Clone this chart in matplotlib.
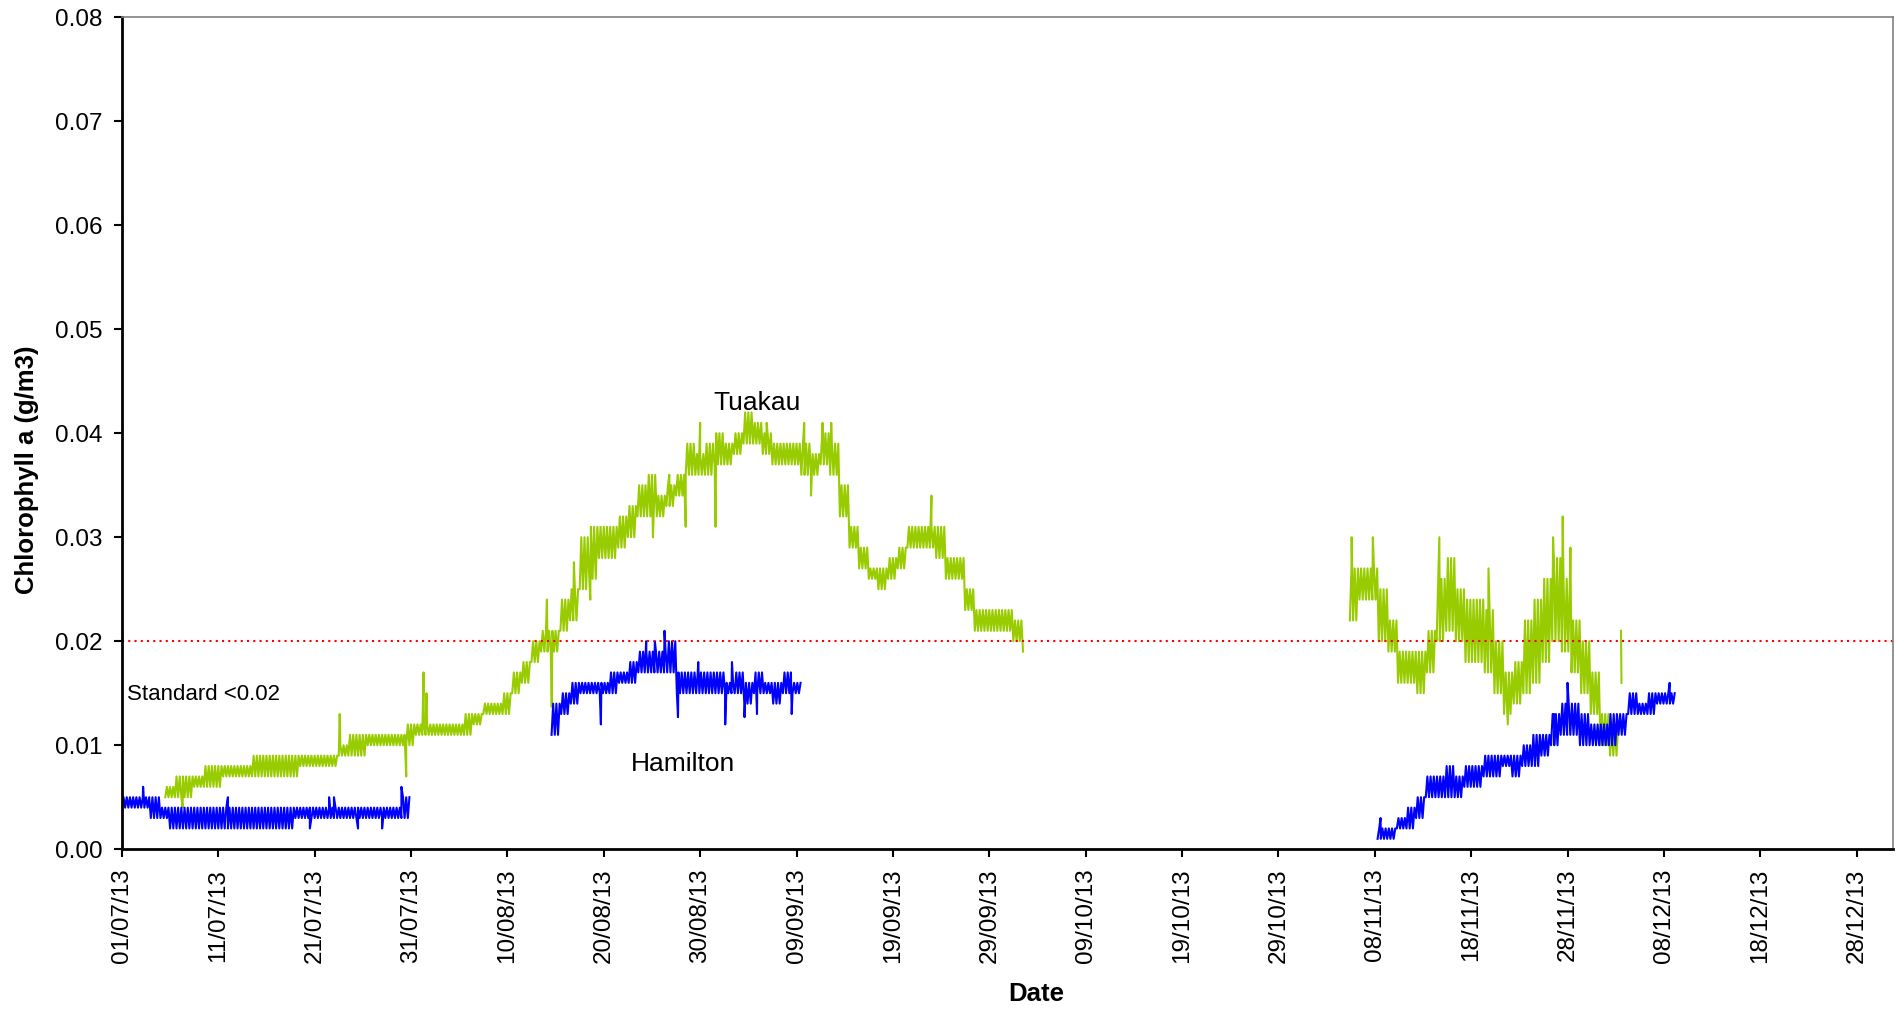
import numpy as np
import pandas as pd
import matplotlib
matplotlib.use("Agg")
import matplotlib.pyplot as plt
import matplotlib.dates as mdates
from matplotlib.ticker import FormatStrFormatter

plt.rcParams['font.family'] = ['Liberation Sans', 'DejaVu Sans']

BASE = pd.Timestamp('2013-07-01')

# daily low / high of the logger readings (g/m3)
# Tuakau, first run
tuakau1_start = '2013-07-05 12:00'
tuakau1_lo = [.005, .005, .005, .006, .006, .006, .007, .007, .007, .007,
              .007, .007, .007, .007, .008, .008, .008, .008, .009, .009,
              .009, .010, .010, .010, .010, .010, .011, .011, .011, .011,
              .011, .011, .012, .013, .013, .013, .015, .016, .018, .019,
              .019, .021, .022, .025, .026, .028, .028, .029, .030, .032,
              .032, .032, .033, .034, .036, .036, .036, .037, .037, .038,
              .039, .039, .038, .037, .037, .037, .036, .036, .037, .036,
              .032, .029, .027, .026, .025, .026, .027, .029, .029, .029,
              .028, .026, .026, .023, .021, .021, .021, .021, .020]
tuakau1_hi = [.006, .007, .007, .007, .008, .008, .008, .008, .008, .009,
              .009, .009, .009, .009, .009, .009, .009, .009, .010, .011,
              .011, .011, .011, .011, .011, .012, .012, .012, .012, .012,
              .012, .013, .013, .014, .014, .015, .017, .018, .020, .021,
              .021, .024, .025, .030, .031, .031, .031, .032, .033, .035,
              .036, .034, .035, .036, .039, .038, .039, .040, .039, .040,
              .042, .041, .040, .039, .039, .039, .039, .038, .040, .039,
              .035, .031, .029, .027, .027, .028, .029, .031, .031, .031,
              .031, .028, .028, .025, .023, .023, .023, .023, .022]
# isolated spikes: (days since 01/07/13, value)
tuakau1_spikes = [(6.3, .004), (22.6, .013), (29.5, .007), (31.3, .017),
                  (31.6, .015), (44.1, .024), (44.6, .0137), (46.9, .0276),
                  (48.6, .024), (55.1, .030), (56.8, .036), (58.5, .031),
                  (60.0, .041), (61.6, .031), (65.0, .042), (66.9, .041),
                  (70.8, .041), (71.5, .034), (72.7, .041), (73.6, .041),
                  (84.0, .034), (93.5, .019)]

# Tuakau, second run
tuakau2_start = '2013-11-05 10:00'
tuakau2_lo = [.022, .024, .024, .020, .019, .016, .016, .015, .017, .020,
              .021, .020, .018, .018, .017, .015, .013, .014, .015, .016,
              .018, .020, .019, .017, .015, .013, .010, .009]
tuakau2_hi = [.027, .027, .027, .025, .022, .019, .019, .019, .021, .026,
              .028, .025, .024, .024, .023, .020, .017, .018, .022, .024,
              .026, .028, .026, .022, .020, .017, .013, .012]
tuakau2_spikes = [(127.6, .030), (129.8, .030), (136.7, .030), (141.8, .027),
                  (143.8, .012), (148.5, .030), (149.5, .032), (150.3, .029)]
tuakau3_days = [155.55, 155.6]
tuakau3_vals = [.021, .016]

# Hamilton
hamilton1_start = '2013-07-01 00:00'
hamilton1_lo = [.004, .004, .004, .003, .003, .002, .002, .002, .002, .002,
                .002, .002, .002, .002, .002, .002, .002, .002, .003, .003,
                .003, .003, .003, .003, .003, .003, .003, .003, .003, .003]
hamilton1_hi = [.005, .005, .005, .005, .004, .004, .004, .004, .004, .004,
                .004, .004, .004, .004, .004, .004, .004, .004, .004, .004,
                .004, .004, .004, .004, .004, .004, .004, .004, .004, .005]
hamilton1_spikes = [(2.2, .006), (11.0, .005), (19.5, .002), (21.5, .005),
                    (22.0, .005), (24.5, .002), (27.0, .002), (29.0, .006)]

hamilton2_start = '2013-08-14 14:00'
hamilton2_lo = [.011, .013, .014, .015, .015, .015, .015, .016, .016, .017,
                .017, .017, .017, .015, .015, .015, .015, .015, .015, .015,
                .014, .015, .015, .014, .015, .015]
hamilton2_hi = [.014, .015, .016, .016, .016, .016, .017, .017, .018, .019,
                .019, .019, .020, .017, .017, .017, .017, .017, .016, .017,
                .016, .017, .016, .016, .017, .016]
hamilton2_spikes = [(49.7, .012), (54.4, .020), (55.3, .020), (56.3, .021),
                    (57.7, .0127), (59.8, .018), (62.6, .012), (63.3, .018),
                    (64.6, .0127), (65.9, .013), (69.5, .013)]

hamilton3_start = '2013-11-08 07:00'
hamilton3_lo = [.001, .001, .002, .002, .003, .005, .005, .005, .005, .006,
                .006, .007, .007, .008, .007, .008, .008, .009, .010, .011,
                .011, .010, .010, .010, .010, .011, .013, .013, .013, .014,
                .014]
hamilton3_hi = [.002, .002, .003, .004, .005, .007, .007, .008, .007, .008,
                .008, .009, .009, .009, .009, .010, .011, .011, .013, .014,
                .014, .013, .012, .012, .013, .013, .015, .014, .015, .015,
                .015]
hamilton3_spikes = [(130.6, .003), (148.6, .013), (150.0, .016), (160.6, .016)]

standard = 0.02


def band_series(start, lo, hi, spikes, steps=6):
    # zig-zag between the day's low and high readings, plus the spikes
    t0 = pd.Timestamp(start)
    times, vals = [], []
    for i, (a, b) in enumerate(zip(lo, hi)):
        for k in range(steps):
            times.append(t0 + pd.Timedelta(hours=24 * i + 24 * k / steps))
            vals.append(a if k % 2 == 0 else b)
    for d, v in spikes:
        times.append(BASE + pd.Timedelta(days=d))
        vals.append(v)
    return pd.Series(vals, index=pd.DatetimeIndex(times)).sort_index()


green = '#99CC00'
blue = '#0000FF'

fig = plt.figure(figsize=(18.96, 10.11), dpi=100)
ax = fig.add_axes([0.0643, 0.160, 0.934, 0.823])

for st, lo, hi, sp in [(tuakau1_start, tuakau1_lo, tuakau1_hi, tuakau1_spikes),
                       (tuakau2_start, tuakau2_lo, tuakau2_hi, tuakau2_spikes)]:
    s = band_series(st, lo, hi, sp)
    ax.plot(s.index, s.values, color=green, linewidth=1.5)
t3 = [BASE + pd.Timedelta(days=d) for d in tuakau3_days]
ax.plot(t3, tuakau3_vals, color=green, linewidth=1.5)

for st, lo, hi, sp in [(hamilton1_start, hamilton1_lo, hamilton1_hi, hamilton1_spikes),
                       (hamilton2_start, hamilton2_lo, hamilton2_hi, hamilton2_spikes),
                       (hamilton3_start, hamilton3_lo, hamilton3_hi, hamilton3_spikes)]:
    s = band_series(st, lo, hi, sp)
    ax.plot(s.index, s.values, color=blue, linewidth=1.5)

ax.axhline(standard, color='red', linestyle=(0, (1, 2)), linewidth=1.5)

ax.text(BASE + pd.Timedelta(days=0.5), 0.0149, 'Standard <0.02', fontsize=16,
        ha='left', va='center')
ax.text(BASE + pd.Timedelta(days=65.9), 0.0429, 'Tuakau', fontsize=19,
        ha='center', va='center')
ax.text(BASE + pd.Timedelta(days=58.2), 0.0082, 'Hamilton', fontsize=19,
        ha='center', va='center')

# axes
ax.set_xlim(BASE, pd.Timestamp('2013-12-31 18:00'))
ax.set_ylim(0, 0.08)
ax.set_yticks(np.arange(0, 0.081, 0.01))
ax.yaxis.set_major_formatter(FormatStrFormatter('%.2f'))
ax.set_xticks(pd.date_range('2013-07-01', periods=19, freq='10D'))
ax.xaxis.set_major_formatter(mdates.DateFormatter('%d/%m/%y'))
ax.tick_params(axis='x', labelrotation=90, labelsize=17.5, length=6, width=1.5,
               direction='out', pad=8)
ax.tick_params(axis='y', labelsize=17.5, length=6, width=1.5, direction='out', pad=8)

for side in ['left', 'bottom']:
    ax.spines[side].set_color('black')
    ax.spines[side].set_linewidth(2)
for side in ['top', 'right']:
    ax.spines[side].set_color('#808080')
    ax.spines[side].set_linewidth(1.2)

fig.text(1036 / 1896, 1 - 994 / 1011, 'Date', fontsize=18.5, fontweight='bold',
         ha='center', va='center')
fig.text(27 / 1896, 1 - 470 / 1011, 'Chlorophyll a (g/m3)', fontsize=18.5,
         fontweight='bold', ha='center', va='center', rotation=90)

fig.savefig('out.png', dpi=100)
